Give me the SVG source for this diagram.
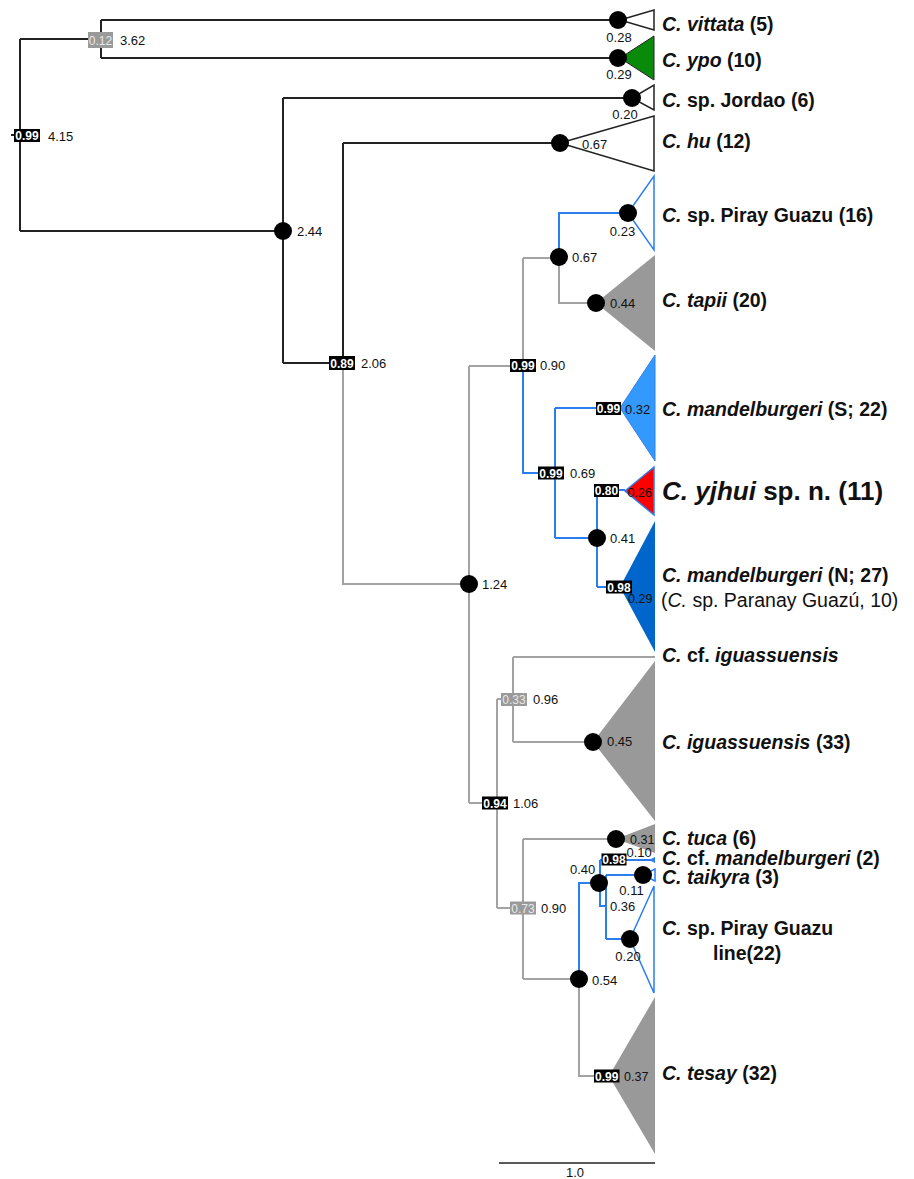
<svg xmlns="http://www.w3.org/2000/svg" width="914" height="1179" viewBox="0 0 914 1179">
<style>
.k{stroke:#222;stroke-width:2;fill:none}
.g{stroke:#a3a3a3;stroke-width:2;fill:none}
.b{stroke:#2a7ef0;stroke-width:2;fill:none}
.dot{fill:#000}
.num{font-family:"Liberation Sans",Arial,sans-serif;font-size:13px;fill:#111}
.bx{fill:#000}
.bxg{fill:#9a9a9a}
.bt{font-family:"Liberation Sans",Arial,sans-serif;font-size:12px;font-weight:bold;fill:#fff;text-anchor:middle}
.btg{font-family:"Liberation Sans",Arial,sans-serif;font-size:12px;fill:#e8e8e8;text-anchor:middle}
.tip{font-family:"Liberation Sans",Arial,sans-serif;font-size:19.5px;font-weight:bold;fill:#111}
.i{font-style:italic}
.openk{fill:#fff;stroke:#222;stroke-width:1.5}
.openb{fill:#fff;stroke:#2a7ef0;stroke-width:1.5}
</style>
<rect x="0" y="0" width="914" height="1179" fill="#fff"/>
<g id="connectors">
<path class="k" d="M11,135 H20 M20,39 V231 M20,39 H101 M101,20 V58 M101,20 H618 M101,58 H618 M20,231 H283 M283,98 V363 M283,98 H632 M283,363 H343 M343,143 V363 M343,143 H560"/>
<path class="g" d="M343,363 V584 H469 M469,366 V803 M469,366 H523 M523,258 V366 M523,258 H559 M559,257 V303 H596 M469,803 H497 M497,699 V908 M497,699 H514 M513,657 V742 M513,657 H655 M513,742 H593 M497,908 H523 M523,839 V979 M523,839 H616 M523,979 H579 M579,979 V1076 H607"/>
<path class="b" d="M559,257 V213 H628 M523,366 V473 H555 M555,408 V538 M555,408 H600 M555,538 H597 M597,490 V587 M597,490 H625 M597,587 H610 M579,979 V883 H599 M600,860 V883 M600,860 H655 M600,883 V906 H606 M606,875 V939 M606,875 H643 M606,939 H630"/>
</g>
<g id="root">
<rect class="bx" x="14" y="129" width="26" height="13"/>
<text class="bt" x="27" y="140">0.99</text>
<text class="num" x="48" y="140.5">4.15</text>
</g>
<g id="n012">
<rect class="bxg" x="88" y="32" width="25" height="16"/>
<text class="btg" x="100.5" y="44.5">0.12</text>
<text class="num" x="120" y="45">3.62</text>
</g>
<g id="vittata">
<polygon class="openk" points="620,20 654,10 654,30"/>
<circle class="dot" cx="618" cy="20" r="9"/>
<text class="num" x="619" y="41.5" text-anchor="middle">0.28</text>
<text class="tip" x="662" y="31"><tspan class="i">C. vittata</tspan> (5)</text>
</g>
<g id="ypo">
<polygon fill="#0a8a0a" stroke="#222" stroke-width="1" points="620,58 654,36 654,80"/>
<circle class="dot" cx="618" cy="58" r="9"/>
<text class="num" x="619" y="79" text-anchor="middle">0.29</text>
<text class="tip" x="662" y="66.5"><tspan class="i">C. ypo</tspan> (10)</text>
</g>
<g id="jordao">
<polygon class="openk" points="632,98 654,85 654,110"/>
<circle class="dot" cx="632" cy="98" r="9"/>
<text class="num" x="625" y="118.5" text-anchor="middle">0.20</text>
<text class="tip" x="662" y="107"><tspan class="i">C.</tspan> sp. Jordao (6)</text>
</g>
<g id="hu">
<polygon class="openk" points="560,143 654,116 654,171"/>
<circle class="dot" cx="560" cy="143" r="9"/>
<text class="num" x="582" y="148.5">0.67</text>
<text class="tip" x="662" y="148"><tspan class="i">C. hu</tspan> (12)</text>
</g>
<g id="n244">
<circle class="dot" cx="283" cy="231" r="9"/>
<text class="num" x="297" y="235.5">2.44</text>
</g>
<g id="n089">
<rect class="bx" x="329" y="356" width="26" height="14"/>
<text class="bt" x="342" y="367.5">0.89</text>
<text class="num" x="361" y="368">2.06</text>
</g>
<g id="piray16">
<polygon class="openb" points="628,213 654,176 654,250"/>
<circle class="dot" cx="628" cy="213" r="9"/>
<text class="num" x="622.5" y="235.5" text-anchor="middle">0.23</text>
<text class="tip" x="662" y="222"><tspan class="i">C.</tspan> sp. Piray Guazu (16)</text>
</g>
<g id="n067">
<circle class="dot" cx="559" cy="257" r="9"/>
<text class="num" x="572" y="262">0.67</text>
</g>
<g id="tapii">
<polygon fill="#999" points="596,303 655,255 655,351"/>
<circle class="dot" cx="596" cy="303" r="9"/>
<text class="num" x="610" y="307.5">0.44</text>
<text class="tip" x="662" y="307"><tspan class="i">C. tapii</tspan> (20)</text>
</g>
<g id="n099a">
<rect class="bx" x="510" y="359" width="26" height="13"/>
<text class="bt" x="523" y="370">0.99</text>
<text class="num" x="540" y="370">0.90</text>
</g>
<g id="mandS">
<polygon fill="#3399ff" stroke="#2a7ef0" stroke-width="1" points="620,408 655,355 655,461"/>
<rect class="bx" x="596" y="402" width="25" height="13"/>
<text class="bt" x="608.5" y="413">0.99</text>
<text class="num" x="625" y="414">0.32</text>
<text class="tip" x="662" y="415.5"><tspan class="i">C. mandelburgeri</tspan> (S; 22)</text>
</g>
<g id="n069">
<rect class="bx" x="538" y="466.5" width="26" height="13"/>
<text class="bt" x="551" y="477.5">0.99</text>
<text class="num" x="570" y="477.5">0.69</text>
</g>
<g id="yjhui">
<polygon fill="#ff0000" stroke="#2a7ef0" stroke-width="1.5" points="625,491 654,467 654,515"/>
<rect class="bx" x="594" y="484" width="25" height="13"/>
<text class="bt" x="606.5" y="495">0.80</text>
<text class="num" x="627.5" y="496.5" style="font-size:12.5px">0.26</text>
<text class="tip" x="662" y="500" style="font-size:26px"><tspan class="i">C. yjhui</tspan> sp. n. (11)</text>
</g>
<g id="n041">
<circle class="dot" cx="597" cy="538" r="9"/>
<text class="num" x="610" y="543">0.41</text>
</g>
<g id="mandN">
<polygon fill="#0066cc" points="620,587 655,521 655,652"/>
<rect class="bx" x="606" y="580.5" width="26" height="13"/>
<text class="bt" x="619" y="591.5">0.98</text>
<text class="num" x="628" y="603" style="font-size:12.5px">0.29</text>
<text class="tip" x="662" y="582"><tspan class="i">C. mandelburgeri</tspan> (N; 27)</text>
<text class="tip" x="661" y="607" style="font-weight:normal">(<tspan class="i">C.</tspan> sp. Paranay Guazú, 10)</text>
</g>
<g id="n124">
<circle class="dot" cx="469" cy="584" r="9"/>
<text class="num" x="482" y="588.5">1.24</text>
</g>
<g id="cfiguass">
<text class="tip" x="662" y="662"><tspan class="i">C.</tspan> cf. <tspan class="i">iguassuensis</tspan></text>
</g>
<g id="n033">
<rect class="bxg" x="501" y="693" width="26" height="13"/>
<text class="btg" x="514" y="704">0.33</text>
<text class="num" x="533" y="704">0.96</text>
</g>
<g id="iguass">
<polygon fill="#999" points="593,742 655,661 655,821"/>
<circle class="dot" cx="593" cy="742" r="9"/>
<text class="num" x="607" y="746">0.45</text>
<text class="tip" x="662" y="749"><tspan class="i">C. iguassuensis</tspan> (33)</text>
</g>
<g id="n094">
<rect class="bx" x="482" y="796.5" width="26" height="13"/>
<text class="bt" x="495" y="807.5">0.94</text>
<text class="num" x="513" y="808">1.06</text>
</g>
<g id="n073">
<rect class="bxg" x="510" y="901.5" width="26" height="13"/>
<text class="btg" x="523" y="912.5">0.73</text>
<text class="num" x="541" y="913">0.90</text>
</g>
<g id="tuca">
<polygon fill="#999" points="616,839 655,824 655,853"/>
<circle class="dot" cx="616" cy="839" r="9"/>
<text class="num" x="630" y="844" style="font-size:12.5px">0.31</text>
<text class="tip" x="662" y="845"><tspan class="i">C. tuca</tspan> (6)</text>
</g>
<g id="cfmand">
<polygon fill="#2a7ef0" points="649,860 655,857 655,863"/>
<rect class="bx" x="601.5" y="853.5" width="25" height="12"/>
<text class="bt" x="614" y="864">0.98</text>
<text class="num" x="626.5" y="857">0.10</text>
<text class="tip" x="662" y="865"><tspan class="i">C.</tspan> cf. <tspan class="i">mandelburgeri</tspan> (2)</text>
</g>
<g id="n040">
<circle class="dot" cx="599" cy="883" r="9"/>
<text class="num" x="570" y="873.5">0.40</text>
</g>
<g id="n036">
<text class="num" x="610" y="911">0.36</text>
</g>
<g id="taikyra">
<polygon class="openb" points="643,875 655,869 655,881"/>
<circle class="dot" cx="643" cy="875" r="9"/>
<text class="num" x="631.5" y="895" text-anchor="middle">0.11</text>
<text class="tip" x="662" y="883.5"><tspan class="i">C. taikyra</tspan> (3)</text>
</g>
<g id="pirayline">
<polygon class="openb" points="630,939 654,886 654,993"/>
<circle class="dot" cx="630" cy="939" r="9"/>
<text class="num" x="628" y="961" text-anchor="middle">0.20</text>
<text class="tip" x="662" y="935"><tspan class="i">C.</tspan> sp. Piray Guazu</text>
<text class="tip" x="713" y="959.5">line(22)</text>
</g>
<g id="n054">
<circle class="dot" cx="579" cy="979" r="9"/>
<text class="num" x="592" y="984.5">0.54</text>
</g>
<g id="tesay">
<polygon fill="#999" points="609,1076 655,997 655,1154"/>
<rect class="bx" x="594" y="1069.5" width="25.5" height="13"/>
<text class="bt" x="606.8" y="1080.5">0.99</text>
<text class="num" x="624" y="1081" style="font-size:12.5px">0.37</text>
<text class="tip" x="662" y="1080"><tspan class="i">C. tesay</tspan> (32)</text>
</g>
<g id="scalebar">
<path d="M499,1163 H655" stroke="#222" stroke-width="1.5"/>
<text class="num" x="575" y="1177" text-anchor="middle">1.0</text>
</g>
</svg>
